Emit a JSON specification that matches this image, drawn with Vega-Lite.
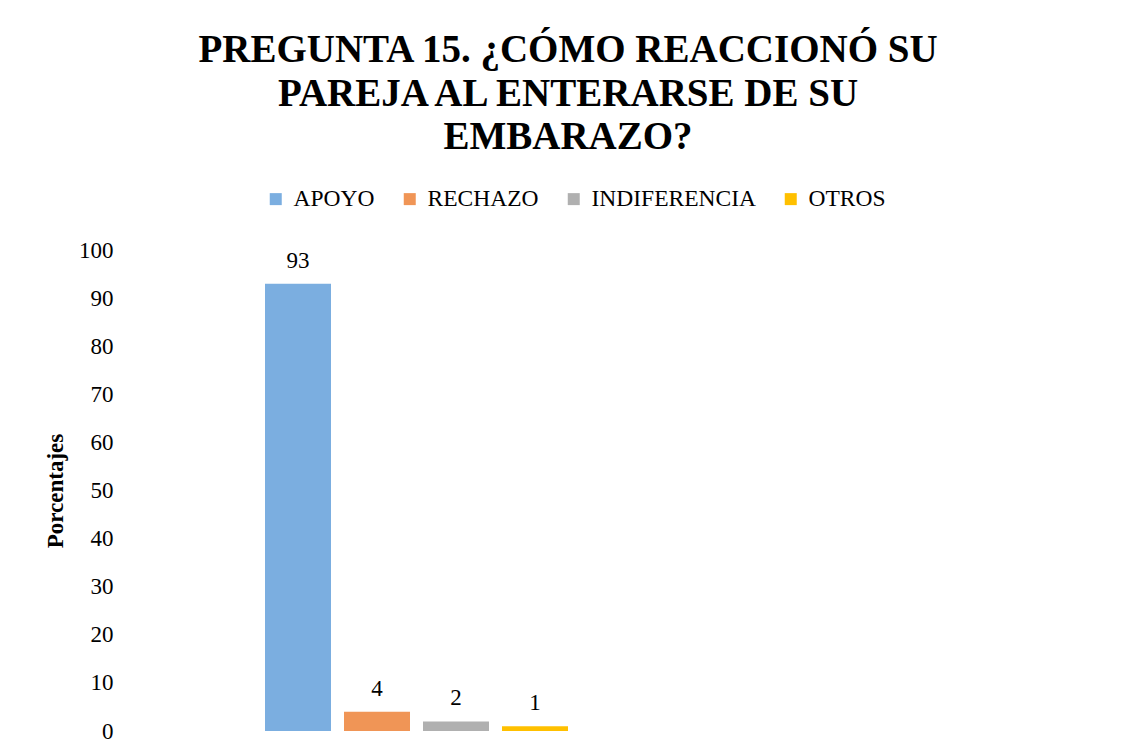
{
  "$schema": "https://vega.github.io/schema/vega-lite/v6.json",
  "width": 597,
  "height": 481,
  "autosize": "none",
  "padding": {"left": 118, "top": 250, "right": 421, "bottom": 25},
  "background": "white",
  "config": {"view": {"stroke": null}},
  "title": {
    "text": ["PREGUNTA 15. ¿CÓMO REACCIONÓ SU", "PAREJA AL ENTERARSE DE SU", "EMBARAZO?"],
    "font": "Liberation Serif",
    "fontSize": 39,
    "fontWeight": "bold",
    "color": "#000000",
    "anchor": "middle",
    "frame": "group",
    "dx": 151.5,
    "dy": -26,
    "lineHeight": 43.5
  },
  "data": {
    "values": [
      {"respuesta": "APOYO", "porcentaje": 93},
      {"respuesta": "RECHAZO", "porcentaje": 4},
      {"respuesta": "INDIFERENCIA", "porcentaje": 2},
      {"respuesta": "OTROS", "porcentaje": 1}
    ]
  },
  "encoding": {
    "x": {
      "field": "respuesta",
      "type": "nominal",
      "sort": ["APOYO", "RECHAZO", "INDIFERENCIA", "OTROS"],
      "scale": {"paddingInner": 0.1646, "paddingOuter": 0, "range": [147, 450]},
      "axis": null
    },
    "y": {
      "field": "porcentaje",
      "type": "quantitative",
      "scale": {"domain": [0, 100], "nice": false},
      "axis": {
        "title": "Porcentajes",
        "titleFont": "Liberation Serif",
        "titleFontSize": 23,
        "titleFontWeight": "bold",
        "titleColor": "#000000",
        "titleX": -63,
        "titleY": 240.5,
        "titleAngle": -90,
        "titleAlign": "center",
        "titleBaseline": "middle",
        "labelFont": "Liberation Serif",
        "labelFontSize": 23,
        "labelColor": "#000000",
        "labelPadding": 5,
        "domain": false,
        "ticks": false,
        "grid": false,
        "values": [0, 10, 20, 30, 40, 50, 60, 70, 80, 90, 100]
      }
    }
  },
  "layer": [
    {
      "mark": {"type": "bar"},
      "encoding": {
        "color": {
          "field": "respuesta",
          "type": "nominal",
          "sort": ["APOYO", "RECHAZO", "INDIFERENCIA", "OTROS"],
          "scale": {
            "domain": ["APOYO", "RECHAZO", "INDIFERENCIA", "OTROS"],
            "range": ["#7BAEE0", "#F09556", "#B0B0B0", "#FFC000"]
          },
          "legend": {
            "title": null,
            "orient": "none",
            "direction": "horizontal",
            "legendX": 146,
            "legendY": -63,
            "symbolType": "square",
            "symbolSize": 144,
            "symbolStrokeWidth": 0,
            "labelFont": "Liberation Serif",
            "labelFontSize": 23.5,
            "labelColor": "#000000",
            "labelLimit": 0,
            "labelOffset": 6,
            "columnPadding": 23,
            "padding": 0
          }
        }
      }
    },
    {
      "mark": {
        "type": "text",
        "baseline": "alphabetic",
        "dy": -16,
        "font": "Liberation Serif",
        "fontSize": 23,
        "color": "#000000"
      },
      "encoding": {
        "text": {"field": "porcentaje", "type": "quantitative"}
      }
    }
  ]
}
